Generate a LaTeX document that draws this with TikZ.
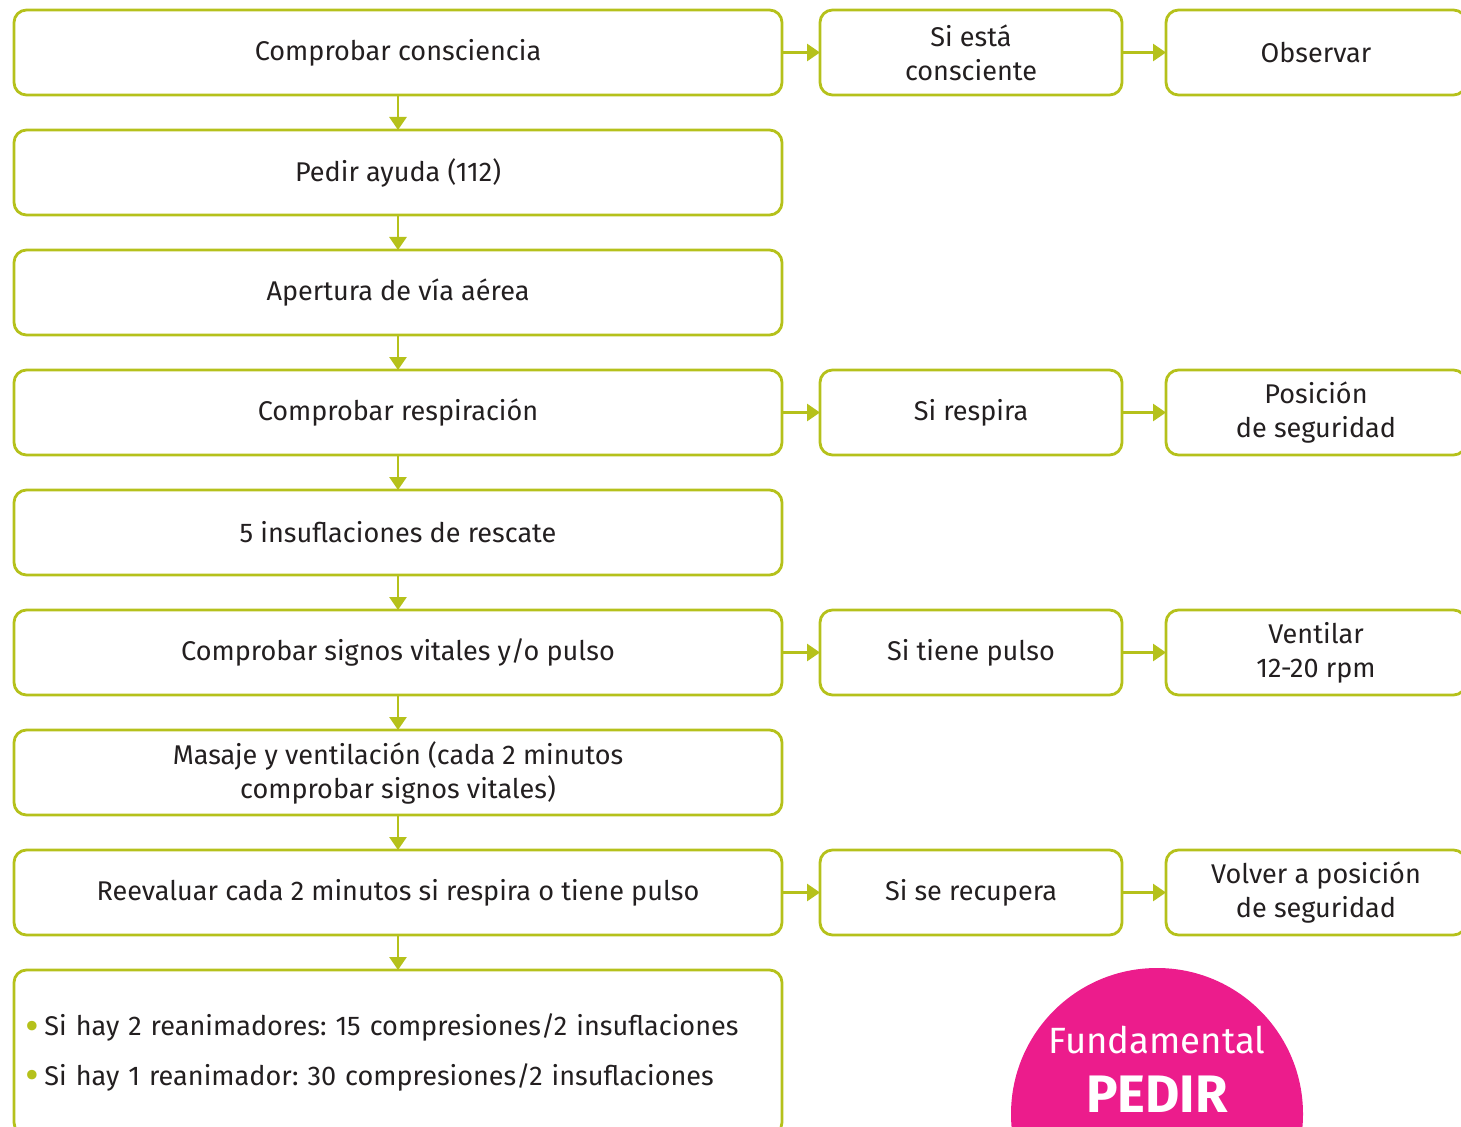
\documentclass[tikz,border=0pt]{standalone}
\usepackage{fontspec}
\setmainfont{Fira Sans}
\frenchspacing
\usetikzlibrary{positioning, arrows.meta}
\definecolor{lima}{HTML}{B5C11B}
\definecolor{rosa}{HTML}{EC1C8C}
\definecolor{tinta}{HTML}{231F20}
\newcommand{\vineta}{\textcolor{lima}{\fontsize{24}{19}\selectfont\raisebox{-2.6pt}{•}}\hspace{3pt}}

\begin{document}
\begin{tikzpicture}[
    caja/.style={draw=lima, line width=1.6pt, rounded corners=0.25cm, minimum height=1.7cm,
        align=center, text=tinta, inner sep=2pt, outer sep=0pt, font=\fontsize{15.4}{19.4}\selectfont},
    paso/.style={caja, minimum width=15.36cm},
    si/.style={caja, minimum width=6.04cm, right=0.76cm of #1},
    accion/.style={caja, minimum width=6.0cm, right=0.88cm of #1},
    flecha/.style={draw=lima, line width=1.6pt, -{Triangle[width=0.34cm, length=0.26cm]}}
]
\useasboundingbox (0,0) rectangle (29.22,-22.52);
\clip (0,0) rectangle (29.22,-22.52);

% columna principal
\node[paso, anchor=north west] (p1) at (0.28,-0.2) {Comprobar consciencia};
\node[paso, below=0.7cm of p1] (p2) {Pedir ayuda (112)};
\node[paso, below=0.7cm of p2] (p3) {Apertura de vía aérea};
\node[paso, below=0.7cm of p3] (p4) {Comprobar respiración};
\node[paso, below=0.7cm of p4] (p5) {5 insuflaciones de rescate};
\node[paso, below=0.7cm of p5] (p6) {Comprobar signos vitales y/o pulso};
\node[paso, below=0.7cm of p6] (p7) {Masaje y ventilación (cada 2 minutos\\comprobar signos vitales)};
\node[paso, below=0.7cm of p7] (p8) {Reevaluar cada 2 minutos si respira o tiene pulso};
\node[paso, below=0.7cm of p8, minimum height=3.3cm, text width=14.9cm, inner xsep=0.2cm, align=left] (p9)
    {\vineta Si hay 2 reanimadores: 15 compresiones/2 insuflaciones\\[0.31cm]
     \vineta Si hay 1 reanimador: 30 compresiones/2 insuflaciones};

% ramas
\node[si=p1] (s1) {Si está\\consciente};
\node[accion=s1] (a1) {Observar};
\node[si=p4] (s4) {Si respira};
\node[accion=s4] (a4) {Posición\\de seguridad};
\node[si=p6] (s6) {Si tiene pulso};
\node[accion=s6] (a6) {Ventilar\\12-20 rpm};
\node[si=p8] (s8) {Si se recupera};
\node[accion=s8] (a8) {Volver a posición\\de seguridad};

% flechas hacia abajo
\foreach \i in {1,...,8}{
    \pgfmathsetmacro{\j}{int(\i+1)}
    \draw[flecha] (p\i.south) -- (p\j.north);
}
% flechas hacia la derecha
\foreach \i in {1,4,6,8}{
    \draw[flecha] (p\i.east) -- (s\i.west);
    \draw[flecha] (s\i.east) -- (a\i.west);
}

\node[circle, fill=rosa, minimum size=5.84cm, inner sep=0pt] (sello) at (23.14,-22.28) {};
\node[text=white, font=\fontsize{20.8}{24}\selectfont] (fund) at (23.14,-20.8) {Fundamental};
\node[text=white, font=\fontsize{30}{32}\selectfont\bfseries, below=0.2cm of fund] (pedir) {PEDIR};
\end{tikzpicture}
\end{document}
